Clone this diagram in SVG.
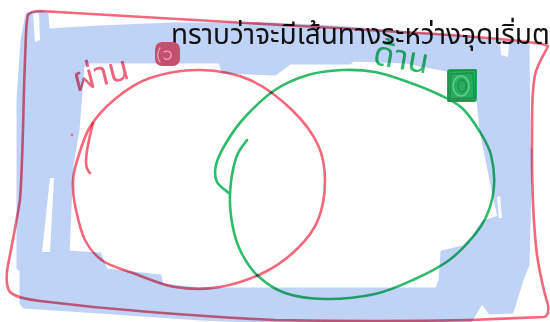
<svg xmlns="http://www.w3.org/2000/svg" width="550" height="322" viewBox="0 0 550 322">
<style>
.hl{fill:#bfd3f7;stroke:#bfd3f7;stroke-width:3;stroke-linejoin:round;fill-rule:evenodd}
.gap{fill:#ffffff}
.ink{fill:none;stroke-width:2.6;stroke-linecap:round;stroke-linejoin:round;mix-blend-mode:multiply}
.red{stroke:#f5677a}
.grn{stroke:#2ebb6a}
.thai{font-family:"Noto Sans Thai","Noto Sans","DejaVu Sans",sans-serif}
.print{font-size:28px;fill:#111111}
.hand{font-size:34px;mix-blend-mode:multiply}
</style>
<rect width="550" height="322" fill="#ffffff"/>
<g id="highlight">
<path class="hl" d="M27,14 L40,12 L47,14 L48,30 L100,27 L170,24 L275,24 L350,28 L420,34 L470,38 L500,42 L528,44 L529,148 L531,150 L528,265 L522,280 L512,312 L490,313 L482,302 L470,322 L275,322 L200,319 L100,312 L24,307 L21,303 L21,270 L18,268 L18,100 L22,40 Z M87,62 L220,62 L223,72 L275,74 L290,63 L350,63 L353,60 L405,62 L447,70 L475,73 L478,100 L481,130 L487,160 L491,180 L495,200 L499,217 L483,222 L473,237 L463,247 L442,252 L440,280 L437,289 L275,289 L200,289 L162,285 L160,276 L106,270 L103,262 L100,254 L68,252 L72,165 L78,130 L83,67 Z"/>
<polygon class="gap" points="50,178 54,178 50,252 42,252"/>
<polygon class="gap" points="33,14 39,13 40,40 35,42"/>
<polygon class="gap" points="500,43 509,44 508,57 501,55"/>
<polygon class="gap" points="497,197 500,196 502,218 499,218"/>
</g>
<text class="thai print" x="171" y="44">ทราบว่าจะมีเส้นทางระหว่างจุดเริ่มต</text>
<g id="frame">
<path class="ink red" d="M40,11 C60,12 110,15 160,18 C220,21 260,24 300,26 C340,28 370,30 400,32 C440,34 480,37 510,40 C530,42 545,44 548,46 C544,55 537,65 535,75 C532,90 532,110 532,150 C532,190 534,230 537,255 C540,275 545,295 548,305 C549,312 548,316 544,317 C520,318 490,319 470,320 C420,321 330,321 275,320 C230,318 200,316 150,312 C110,309 80,306 40,301 C25,299 15,297 10,292 C6,287 6,275 8,265 C12,245 16,225 20,200 C23,160 23,110 25,60 C26,35 26,20 28,15 C30,12 34,11 40,11 Z"/>
</g>
<g id="set-pass">
<path class="ink red" d="M77,161 C79.8,152 83.7,137.3 90,127 C96.3,116.7 105,107.2 115,99 C125,90.8 135.8,82.8 150,78 C164.2,73.2 183.3,69.7 200,70 C216.7,70.3 234.7,73.3 250,80 C265.3,86.7 280.7,99.2 292,110 C303.3,120.8 312.5,133.2 318,145 C323.5,156.8 325,168.5 325,181 C325,193.5 322.5,208.8 318,220 C313.5,231.2 306.8,239.3 298,248 C289.2,256.7 278,265.5 265,272 C252,278.5 235,284.5 220,287 C205,289.5 189.5,289.3 175,287 C160.5,284.7 145,277.3 133,273 C121,268.7 111,266.5 103,261 C95,255.5 89.7,249.3 85,240 C80.3,230.7 77,214.8 75,205 C73,195.2 72.7,188.3 73,181 C73.3,173.7 74.2,170 77,161 Z"/>
<path class="ink red" d="M93,123 C90,135 86,150 86,162 C86,168 88,171 90,173"/>
<circle cx="72" cy="135" r="1.4" fill="#f5677a"/>
<text class="thai hand" x="76" y="92" fill="#f0647c" transform="rotate(-14 76 92)">ผ่าน</text>
<rect x="155" y="42" width="25" height="24" rx="7" fill="#c4506e"/>
<path d="M160,48 C157,52 157,58 160,62 M164,52 C168,50 172,52 171,56 C170,60 165,60 164,58" fill="none" stroke="#f0a6bd" stroke-width="1.2" stroke-linecap="round"/>
</g>
<g id="set-side">
<path class="ink grn" d="M247,140 C243.3,146 238.8,149 236,158 C233.2,167 230.5,182.3 230,194 C229.5,205.7 231,218 233,228 C235,238 237.8,246 242,254 C246.2,262 250.8,269.5 258,276 C265.2,282.5 273.8,289.2 285,293 C296.2,296.8 310,298.8 325,299 C340,299.2 360,297.3 375,294 C390,290.7 402.8,284.5 415,279 C427.2,273.5 438.5,267.8 448,261 C457.5,254.2 465.5,245.7 472,238 C478.5,230.3 483.3,223.7 487,215 C490.7,206.3 493.3,196 494,186 C494.7,176 493.3,164 491,155 C488.7,146 484.8,139.8 480,132 C475.2,124.2 468.7,114.2 462,108 C455.3,101.8 449,99.3 440,95 C431,90.7 418.8,85.8 408,82 C397.2,78.2 386,74 375,72 C364,70 353.2,69.5 342,70 C330.8,70.5 319.2,71.7 308,75 C296.8,78.3 285.5,83 275,90 C264.5,97 253.2,108.2 245,117 C236.8,125.8 230.8,135 226,143 C221.2,151 217.5,158.5 216,165 C214.5,171.5 214.7,177.2 217,182 C219.3,186.8 225.7,190 230,194"/>
<text class="thai hand" x="372" y="64" fill="#2ebb6a" transform="rotate(10 372 64)">ด้าน</text>
<rect x="447" y="69" width="30" height="33" rx="3" fill="#2aac5e"/>
<path d="M449,71 L476,70 L475,100 L448,101 Z M451,74 L473,73 L474,98 L450,99 Z" fill="none" stroke="#1e8f4b" stroke-width="1.3"/>
<ellipse cx="461" cy="86" rx="8" ry="10" fill="none" stroke="#5fd08e" stroke-width="1.5"/>
<ellipse cx="462" cy="86" rx="4" ry="6" fill="none" stroke="#1e8f4b" stroke-width="1.3"/>
</g>
</svg>
